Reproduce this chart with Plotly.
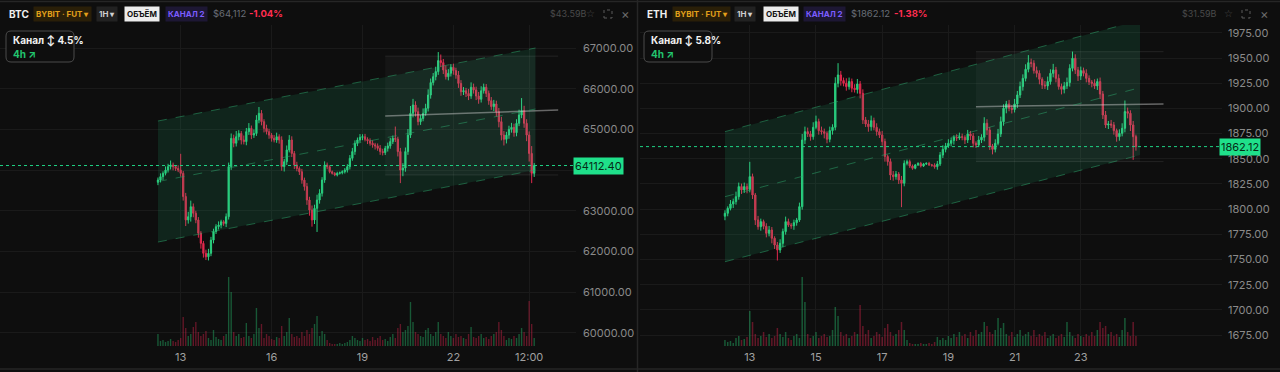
import plotly.graph_objects as go
import pandas as pd

W, H = 1280, 372
START = "2024-06-12 06:00"
N = 150

# ---------------- BTC data (2h candles) ----------------
btc_open0 = 63700
btc_close = [
    63757, 63839, 63920, 64000, 64085, 64125, 64085, 64040, 64000, 63920,
    63350, 62775, 62855, 63100, 62940, 62775, 62450, 62200, 61955, 61870,
    61955, 62280, 62490, 62610, 62650, 62730, 62690, 62855, 64085, 64780,
    64660, 64820, 64900, 64740, 64700, 64945, 65025, 64860, 64900, 65230,
    65395, 65190, 65025, 64945, 64860, 64780, 64740, 64820, 64740, 64085,
    64205, 64495, 64740, 64410, 64125, 64040, 63960, 63755, 63595, 63265,
    63020, 62775, 63060, 63265, 63430, 63757, 64125, 64080, 63960, 63920,
    63880, 63920, 63935, 63960, 64000, 64085, 64290, 64455, 64660, 64740,
    64805, 64820, 64755, 64720, 64660, 64620, 64595, 64535, 64455, 64430,
    64535, 64595, 64700, 64780, 64760, 64455, 64000, 64050, 64455, 64860,
    65395, 65600, 65435, 65190, 65270, 65395, 65520, 65845, 66150, 66295,
    66420, 66690, 66640, 66460, 66295, 66380, 66525, 66445, 66335, 66130,
    65925, 65950, 65885, 65820, 66035, 65970, 65820, 65740, 65950, 66035,
    65885, 65705, 65560, 65625, 65435, 65190, 64860, 64755, 64860, 65000,
    65050, 64920, 65150, 65355, 65460, 65150, 64860, 64410, 63920, 64112.4,
]
btc_up_wick = [
    60, 80, 50, 90, 70, 110, 60, 40, 80, 400,
    60, 90, 120, 150, 80, 60, 70, 50, 60, 90,
    110, 80, 70, 60, 90, 50, 40, 80, 100, 120,
    90, 140, 80, 60, 110, 90, 130, 70, 100, 120,
    155, 80, 60, 90, 70, 50, 80, 100, 60, 90,
    70, 110, 120, 90, 60, 80, 50, 70, 60, 90,
    80, 110, 90, 130, 100, 70, 90, 60, 40, 30,
    30, 40, 30, 35, 50, 60, 80, 90, 70, 60,
    80, 60, 70, 50, 60, 70, 50, 60, 80, 70,
    60, 80, 90, 70, 290, 60, 90, 120, 100, 150,
    180, 150, 90, 100, 80, 120, 110, 140, 100, 90,
    120, 210, 150, 90, 110, 100, 80, 90, 70, 100,
    80, 90, 70, 110, 120, 90, 80, 100, 110, 90,
    80, 70, 90, 100, 80, 90, 120, 100, 80, 90,
    110, 90, 100, 130, 310, 120, 100, 90, 180, 60,
]
btc_dn_wick = [
    70, 60, 80, 50, 60, 70, 90, 60, 50, 80,
    100, 150, 90, 120, 100, 80, 110, 130, 105, 80,
    90, 70, 80, 60, 70, 80, 60, 90, 70, 80,
    100, 80, 90, 110, 70, 90, 80, 100, 70, 60,
    80, 90, 100, 70, 90, 80, 60, 70, 90, 100,
    120, 80, 60, 90, 100, 70, 80, 90, 100, 120,
    140, 165, 100, 580, 90, 80, 70, 60, 40, 30,
    30, 35, 30, 40, 45, 60, 70, 60, 80, 70,
    60, 70, 50, 80, 60, 70, 90, 60, 80, 70,
    60, 80, 70, 60, 70, 120, 320, 150, 90, 80,
    70, 100, 120, 90, 80, 70, 60, 80, 90, 70,
    90, 80, 110, 100, 70, 90, 80, 100, 90, 110,
    100, 80, 90, 100, 70, 90, 100, 110, 80, 70,
    90, 100, 80, 110, 120, 140, 130, 150, 100, 90,
    80, 100, 90, 70, 80, 110, 150, 200, 240, 90,
]
btc_volume = [
    1200, 500, 600, 400, 500, 700, 500, 400, 600, 800,
    2900, 1800, 1000, 1200, 1900, 2400, 1400, 1000, 1200, 1500,
    800, 600, 1600, 900, 700, 600, 1000, 1200, 6900, 5400,
    1400, 1000, 1200, 800, 900, 2300, 1000, 800, 1200, 3800,
    1800, 2200, 800, 1200, 1000, 700, 600, 900, 800, 2000,
    1000, 1400, 2800, 1200, 900, 1000, 800, 1400, 1000, 1600,
    1200, 1800, 2200, 3000, 1000, 1500, 1200, 600, 300, 200,
    200, 200, 300, 200, 300, 400, 600, 1000, 800, 600,
    500, 800, 600, 700, 500, 900, 600, 800, 1000, 600,
    700, 500, 900, 1200, 800, 1800, 2200, 1400, 1600, 2000,
    4400, 2400, 1400, 1200, 1000, 900, 1600, 1800, 1200, 1000,
    1400, 2400, 1200, 1000, 800, 1400, 1000, 800, 1200, 900,
    1000, 800, 700, 1200, 1900, 900, 800, 1000, 1200, 800,
    900, 700, 1000, 1200, 1400, 2400, 1600, 1000, 600, 800,
    700, 1000, 800, 1200, 1800, 1400, 1000, 4500, 2200, 800,
]

# ---------------- ETH data (2h candles) ----------------
eth_open0 = 1793.0
eth_close = [
    1795.9, 1800.8, 1805.1, 1807.5, 1812.4, 1822.4, 1819.1, 1822.4, 1819.7, 1832.3,
    1814.1, 1789.3, 1782.6, 1787.6, 1783.0, 1776.0, 1779.3, 1771.1, 1764.4, 1759.5,
    1766.1, 1777.7, 1787.6, 1784.3, 1783.5, 1786.6, 1789.3, 1802.5, 1868.7, 1877.0,
    1874.7, 1872.0, 1881.3, 1886.9, 1878.0, 1877.0, 1875.3, 1869.4, 1878.0, 1881.3,
    1925.0, 1933.3, 1927.7, 1925.0, 1921.7, 1926.7, 1920.1, 1918.8, 1924.3, 1915.0,
    1888.6, 1884.6, 1881.9, 1887.9, 1881.3, 1877.0, 1873.7, 1867.1, 1852.2, 1847.2,
    1833.9, 1832.3, 1834.9, 1829.0, 1825.7, 1845.5, 1847.2, 1842.9, 1840.6, 1843.9,
    1845.5, 1842.9, 1844.9, 1845.5, 1843.9, 1843.6, 1842.2, 1844.9, 1853.8, 1859.4,
    1862.8, 1865.4, 1868.1, 1871.4, 1870.7, 1872.0, 1871.4, 1868.7, 1874.7, 1872.7,
    1865.4, 1863.8, 1868.7, 1871.4, 1885.3, 1878.6, 1862.8, 1859.4, 1865.4, 1874.7,
    1886.9, 1900.2, 1904.5, 1900.2, 1899.0, 1904.5, 1913.4, 1921.7, 1929.9, 1938.9,
    1945.5, 1944.9, 1937.6, 1934.9, 1929.0, 1923.3, 1922.4, 1926.7, 1934.9, 1938.3,
    1929.9, 1921.7, 1919.0, 1922.4, 1925.7, 1939.9, 1949.8, 1938.3, 1932.3, 1937.6,
    1934.9, 1929.9, 1926.3, 1925.0, 1922.4, 1926.7, 1914.4, 1893.5, 1883.6, 1884.6,
    1883.6, 1878.0, 1872.0, 1875.3, 1880.3, 1896.9, 1895.2, 1883.6, 1872.0, 1862.12,
]
eth_up_wick = [
    3, 2, 4, 3, 5, 4, 3, 4, 3, 14.7,
    3, 2, 4, 3, 2, 3, 4, 3, 2, 3,
    4, 3, 5, 3, 2, 3, 2, 4, 6, 5,
    4, 3, 5, 6, 3, 4, 3, 2, 4, 3,
    6, 11.7, 4, 3, 5, 4, 3, 4, 5, 3,
    4, 3, 4, 5, 3, 4, 3, 4, 3, 2,
    3, 4, 3, 2, 4, 3, 2, 2, 1.5, 1,
    1, 1.5, 1, 1, 1.5, 1, 2, 3, 3, 4,
    3, 4, 3, 2, 3, 4, 3, 2, 4, 3,
    3, 2, 4, 3, 6, 4, 3, 2, 4, 5,
    5, 4, 3, 4, 3, 5, 4, 5, 4, 5,
    7.5, 4, 3, 4, 3, 2, 4, 5, 4, 6,
    3, 4, 3, 4, 5, 4, 6.7, 4, 3, 4,
    3, 4, 3, 2, 4, 3, 4, 3, 4, 3,
    4, 3, 2, 4, 5, 11, 4, 3, 4, 2,
]
eth_dn_wick = [
    4, 3, 2, 4, 3, 3, 4, 3, 4, 3,
    4, 5, 3, 4, 3, 4, 3, 5, 4, 10.5,
    3, 4, 3, 2, 3, 4, 3, 2, 3, 4,
    3, 4, 3, 2, 4, 3, 5, 4, 3, 4,
    3, 4, 5, 3, 4, 3, 4, 3, 4, 5,
    4, 3, 5, 4, 3, 4, 3, 4, 5, 4,
    5, 4, 3, 4, 23.7, 3, 2, 2, 1.5, 1,
    1, 1.5, 1, 1, 1, 1.5, 2, 3, 2, 3,
    3, 2, 3, 4, 3, 2, 3, 4, 3, 4,
    4, 3, 2, 3, 4, 5, 4, 5, 3, 2,
    3, 4, 5, 3, 4, 3, 4, 3, 4, 3,
    3, 4, 3, 4, 5, 4, 3, 4, 3, 4,
    4, 3, 5, 4, 3, 4, 3, 4, 5, 4,
    3, 4, 3, 4, 3, 4, 5, 4, 3, 4,
    3, 4, 5, 4, 3, 4, 5, 6, 23, 4,
]
eth_volume = [
    600, 400, 500, 300, 800, 1000, 600, 700, 900, 3500,
    2400, 1200, 800, 1000, 1400, 900, 1200, 800, 1000, 1800,
    1200, 900, 1400, 800, 600, 1000, 1200, 800, 6900, 4400,
    1200, 800, 1000, 1400, 800, 1000, 1200, 900, 1000, 1600,
    3900, 3000, 1400, 1000, 1200, 800, 1000, 1400, 1200, 4100,
    2000, 1200, 1600, 800, 1000, 1400, 1200, 900, 1800, 2200,
    1400, 1000, 1200, 1600, 2400, 1600, 600, 300, 200, 200,
    200, 300, 200, 200, 300, 200, 400, 900, 600, 800,
    600, 1000, 800, 1200, 900, 1400, 1000, 1200, 800, 1400,
    1000, 1600, 1200, 1400, 2400, 2000, 1400, 1200, 1600, 2800,
    1800, 2300, 1200, 1000, 1400, 900, 1200, 1600, 1000, 1200,
    1400, 1000, 1600, 900, 1200, 1000, 1400, 800, 1000, 1200,
    800, 1000, 1200, 900, 2400, 1400, 1000, 800, 1200, 1000,
    900, 1200, 1000, 1400, 1000, 1600, 2400, 1800, 2000, 1200,
    1400, 1000, 1200, 900, 1600, 2800, 1400, 1000, 2400, 1000,
]

# ---------------- drawings (channel / range) ----------------
btc_channel_hours = [0, 299]
btc_channel_upper = [65206, 67000]
btc_channel_lower = [62233, 64002]
btc_range_hours = [180, 299, 317]
btc_range_box = [63880, 66800]
btc_range_line = [65329, 65477]

eth_channel_hours = [0, 301]
eth_channel_upper = [1877.0, 1987.6]
eth_channel_lower = [1747.8, 1853.8]
eth_range_hours = [182, 301, 318]
eth_range_box = [1847.2, 1956.4]
eth_range_line = [1901.8, 1904.5]

btc_last = 64112.40
eth_last = 1862.12

btc_price_ticks = [60000, 61000, 62000, 63000, 64000, 65000, 66000, 67000]
btc_price_labels = ["60000.00", "61000.00", "62000.00", "63000.00", "", "65000.00", "66000.00", "67000.00"]
eth_price_ticks = [1675, 1700, 1725, 1750, 1775, 1800, 1825, 1850, 1875, 1900, 1925, 1950, 1975]
btc_time_ticks = ["2024-06-13", "2024-06-16", "2024-06-19", "2024-06-22", "2024-06-24 12:00"]
btc_time_labels = ["13", "16", "19", "22", "12:00"]
eth_time_ticks = ["2024-06-13", "2024-06-15", "2024-06-17", "2024-06-19", "2024-06-21", "2024-06-23"]
eth_time_labels = ["13", "15", "17", "19", "21", "23"]

# ---------------- styling ----------------
BG = "#0e0e0e"
GREEN = "#2bd07f"
RED = "#e0294d"
VOL_G = "rgba(38,190,110,0.42)"
VOL_R = "rgba(215,35,75,0.42)"
GRID = "#1a1a1a"
FONT = "Inter"

base = pd.Timestamp(START)
times = pd.date_range(START, periods=N, freq="2h")


def hrs(h):
    return base + pd.Timedelta(hours=h)


def px(x):
    return x / W


def py(y):
    return 1 - y / H


def ohlc(close, open0, up, dn):
    o = [open0] + close[:-1]
    hi = [max(a, b) + u for a, b, u in zip(o, close, up)]
    lo = [min(a, b) - d for a, b, d in zip(o, close, dn)]
    return o, hi, lo


fig = go.Figure()


def add_panel(xa, ya, va, close, open0, up, dn, vol, ch_h, ch_up, ch_lo, rg_h, rg_box, rg_line):
    o, hi, lo = ohlc(close, open0, up, dn)
    t0, t1 = hrs(ch_h[0]), hrs(ch_h[1])
    fig.add_trace(go.Scatter(
        x=[t0, t1, t1, t0, t0], y=[ch_up[0], ch_up[1], ch_lo[1], ch_lo[0], ch_up[0]],
        fill="toself", fillcolor="rgba(34,197,120,0.13)", line=dict(width=0),
        mode="lines", xaxis=xa, yaxis=ya, hoverinfo="skip", showlegend=False))
    r0, r1, r2 = hrs(rg_h[0]), hrs(rg_h[1]), hrs(rg_h[2])
    fig.add_trace(go.Scatter(
        x=[r0, r1, r1, r0, r0], y=[rg_box[0], rg_box[0], rg_box[1], rg_box[1], rg_box[0]],
        fill="toself", fillcolor="rgba(255,255,255,0.03)", line=dict(width=0),
        mode="lines", xaxis=xa, yaxis=ya, hoverinfo="skip", showlegend=False))
    for yv in rg_box:
        fig.add_trace(go.Scatter(
            x=[r0, r2], y=[yv, yv], mode="lines",
            line=dict(color="rgba(255,255,255,0.09)", width=1),
            xaxis=xa, yaxis=ya, hoverinfo="skip", showlegend=False))
    fig.add_trace(go.Scatter(
        x=[r0, r2], y=rg_line, mode="lines",
        line=dict(color="rgba(210,210,210,0.45)", width=1.5),
        xaxis=xa, yaxis=ya, hoverinfo="skip", showlegend=False))
    mid = [(a + b) / 2 for a, b in zip(ch_up, ch_lo)]
    for yy in (ch_up, ch_lo, mid):
        fig.add_trace(go.Scatter(
            x=[t0, t1], y=yy, mode="lines",
            line=dict(color="rgba(45,170,110,0.5)", width=1, dash="dash"),
            xaxis=xa, yaxis=ya, hoverinfo="skip", showlegend=False))
    colors = [VOL_G if c >= op else VOL_R for c, op in zip(close, o)]
    fig.add_trace(go.Bar(x=times, y=vol, marker=dict(color=colors, line=dict(width=0)),
                         xaxis=xa, yaxis=va, hoverinfo="skip", showlegend=False))
    fig.add_trace(go.Candlestick(
        x=times, open=o, high=hi, low=lo, close=close,
        increasing=dict(line=dict(color=GREEN, width=1), fillcolor=GREEN),
        decreasing=dict(line=dict(color=RED, width=1), fillcolor=RED),
        whiskerwidth=0, xaxis=xa, yaxis=ya, showlegend=False, hoverinfo="skip"))


add_panel("x", "y", "y3", btc_close, btc_open0, btc_up_wick, btc_dn_wick, btc_volume,
          btc_channel_hours, btc_channel_upper, btc_channel_lower,
          btc_range_hours, btc_range_box, btc_range_line)
add_panel("x2", "y2", "y4", eth_close, eth_open0, eth_up_wick, eth_dn_wick, eth_volume,
          eth_channel_hours, eth_channel_upper, eth_channel_lower,
          eth_range_hours, eth_range_box, eth_range_line)

TOP, BOT = 25, 346
ydom = [py(BOT), py(TOP)]

axis_common = dict(showline=False, zeroline=False, ticks="", gridcolor=GRID, gridwidth=1,
                   tickfont=dict(family=FONT, size=11, color="#8a8a8a"))

fig.update_layout(
    width=W, height=H, margin=dict(l=0, r=0, t=0, b=0),
    paper_bgcolor=BG, plot_bgcolor=BG, bargap=0.45, showlegend=False,
    xaxis=dict(domain=[0, px(576)], range=[hrs(-125.1), hrs(331.1)], type="date",
               tickvals=btc_time_ticks, ticktext=btc_time_labels, rangeslider=dict(visible=False),
               anchor="y", ticklabelstandoff=3, **axis_common),
    xaxis2=dict(domain=[px(640), px(1222)], range=[hrs(-61.6), hrs(360.4)], type="date",
                tickvals=eth_time_ticks, ticktext=eth_time_labels, rangeslider=dict(visible=False),
                anchor="y2", ticklabelstandoff=3, **axis_common),
    yaxis=dict(domain=ydom, range=[59678, 67565], side="right", anchor="x",
               tickvals=btc_price_ticks, ticktext=btc_price_labels, ticklabelstandoff=6, **axis_common),
    yaxis2=dict(domain=ydom, range=[1664.1, 1982.9], side="right", anchor="x2",
                tickvals=eth_price_ticks, tickformat=".2f", ticklabelstandoff=5, **axis_common),
    yaxis3=dict(overlaying="y", anchor="x", range=[0, 32100], visible=False, showgrid=False),
    yaxis4=dict(overlaying="y2", anchor="x2", range=[0, 32100], visible=False, showgrid=False),
)
fig.update_xaxes(tickfont=dict(family=FONT, size=11, color="#a0a0a0"))

shapes = []
ann = []

for xr, yr, val in (("x domain", "y", btc_last), ("x2 domain", "y2", eth_last)):
    shapes.append(dict(type="line", xref=xr, yref=yr, x0=0, x1=1, y0=val, y1=val,
                       line=dict(color="#1fd184", width=1, dash="dot")))

ann.append(dict(xref="paper", yref="y", x=px(573), y=btc_last, xanchor="left", yanchor="middle",
                text=f"{btc_last:.2f}", showarrow=False, bgcolor="#1fe08a", borderpad=1,
                font=dict(family=FONT, size=11, color="#062b17")))
ann.append(dict(xref="paper", yref="y2", x=px(1219), y=eth_last, xanchor="left", yanchor="middle",
                text=f"{eth_last:.2f}", showarrow=False, bgcolor="#1fe08a", borderpad=1,
                font=dict(family=FONT, size=11, color="#062b17")))

for (x0, y0, x1, y1) in ((0, 1.5, 1280, 1.5), (0, 369, 1280, 369), (637.5, 0, 637.5, 372)):
    shapes.append(dict(type="line", xref="paper", yref="paper", x0=px(x0), x1=px(x1),
                       y0=py(y0), y1=py(y1), line=dict(color="#262626", width=1.5)))


def header(x0, sym, price_txt, chg_txt, cap_txt, badge_x, icon_x, chan_pct):
    yy = py(14)
    ann.append(dict(xref="paper", yref="paper", x=px(x0), y=yy, xanchor="left", yanchor="middle",
                    text=f"<b>{sym}</b>", showarrow=False,
                    font=dict(family=FONT, size=10, color="#f0f0f0")))
    badges = [
        ("BYBIT · FUT ▾", "#e3a01b", "#2a1f08"),
        ("1H ▾", "#d0d0d0", "#222222"),
        ("ОБЪЁМ", "#111111", "#ececec"),
        ("КАНАЛ 2", "#7b5cff", "#1d1734"),
    ]
    for (txt, fc, bc), bx in zip(badges, badge_x):
        ann.append(dict(xref="paper", yref="paper", x=px(bx), y=yy, xanchor="left", yanchor="middle",
                        text=f"<b>{txt}</b>", showarrow=False, bgcolor=bc, borderpad=2,
                        font=dict(family=FONT, size=8, color=fc)))
    ann.append(dict(xref="paper", yref="paper", x=px(badge_x[4]), y=yy, xanchor="left", yanchor="middle",
                    text=price_txt, showarrow=False, font=dict(family=FONT, size=9.5, color="#6a6e78")))
    ann.append(dict(xref="paper", yref="paper", x=px(badge_x[5]), y=yy, xanchor="left", yanchor="middle",
                    text=f"<b>{chg_txt}</b>", showarrow=False, font=dict(family=FONT, size=9.5, color="#ff2d50")))
    ann.append(dict(xref="paper", yref="paper", x=px(icon_x[0]), y=yy, xanchor="left", yanchor="middle",
                    text=cap_txt, showarrow=False, font=dict(family=FONT, size=9, color="#4a4a4a")))
    ann.append(dict(xref="paper", yref="paper", x=px(icon_x[1]), y=yy, xanchor="center", yanchor="middle",
                    text="☆", showarrow=False, font=dict(family="DejaVu Sans", size=10, color="#4a4a4a")))
    cx = icon_x[2]
    shapes.append(dict(type="rect", xref="paper", yref="paper", x0=px(cx - 4), x1=px(cx + 4),
                       y0=py(18), y1=py(10), line=dict(color="#5a5a5a", width=1, dash="dot")))
    ann.append(dict(xref="paper", yref="paper", x=px(icon_x[3]), y=yy, xanchor="center", yanchor="middle",
                    text="×", showarrow=False, font=dict(family=FONT, size=13, color="#6a6a6a")))
    bx0, bx1, by0, by1, r = x0 - 1, x0 + 67, 31, 62, 5
    path = (f"M {px(bx0 + r)},{py(by0)} L {px(bx1 - r)},{py(by0)} Q {px(bx1)},{py(by0)} {px(bx1)},{py(by0 + r)} "
            f"L {px(bx1)},{py(by1 - r)} Q {px(bx1)},{py(by1)} {px(bx1 - r)},{py(by1)} "
            f"L {px(bx0 + r)},{py(by1)} Q {px(bx0)},{py(by1)} {px(bx0)},{py(by1 - r)} "
            f"L {px(bx0)},{py(by0 + r)} Q {px(bx0)},{py(by0)} {px(bx0 + r)},{py(by0)} Z")
    shapes.append(dict(type="path", xref="paper", yref="paper", path=path,
                       fillcolor=BG, line=dict(color="#4b4b4b", width=1)))
    ann.append(dict(xref="paper", yref="paper", x=px(x0 + 4), y=py(40), xanchor="left", yanchor="middle",
                    text=f"<b>Канал ↕ {chan_pct}</b>", showarrow=False,
                    font=dict(family=FONT, size=10, color="#f2f2f2")))
    ann.append(dict(xref="paper", yref="paper", x=px(x0 + 4), y=py(54), xanchor="left", yanchor="middle",
                    text="<b>4h ↗</b>", showarrow=False,
                    font=dict(family=FONT, size=10, color="#22c56e")))


header(7, "BTC", "$64,112", "-1.04%", "$43.59B",
       [33, 96, 124, 165, 211, 247], [548, 590, 608, 625], "4.5%")
header(645, "ETH", "$1862.12", "-1.38%", "$31.59B",
       [672, 734, 763, 803, 849, 892], [1180, 1228, 1246, 1264], "5.8%")

fig.update_layout(shapes=shapes, annotations=ann)
fig.write_html("out.html")
